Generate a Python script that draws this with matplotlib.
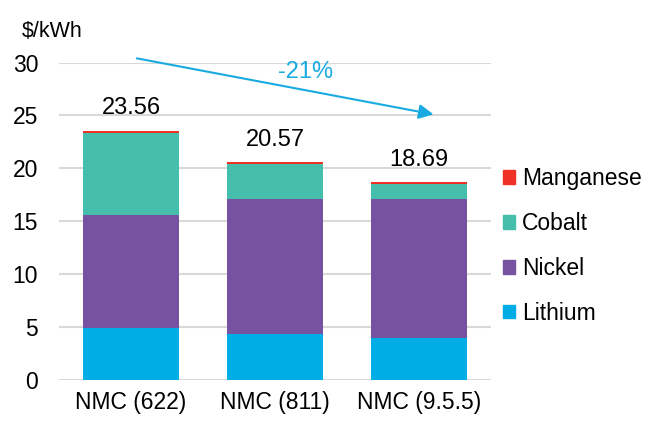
import matplotlib.pyplot as plt
from matplotlib.patches import Patch
import numpy as np

plt.rcParams['font.family'] = ['Liberation Sans', 'DejaVu Sans']

categories = ['NMC (622)', 'NMC (811)', 'NMC (9.5.5)']
lithium = [4.91, 4.38, 3.97]
nickel = [10.71, 12.76, 13.17]
cobalt = [7.74, 3.26, 1.40]
manganese = [0.20, 0.17, 0.15]
totals = [23.56, 20.57, 18.69]
change_label = '-21%'

colors = {
    'Lithium': '#00ADE4',
    'Nickel': '#7652A1',
    'Cobalt': '#45BEAC',
    'Manganese': '#EE3124',
}

fig = plt.figure(figsize=(6.46, 4.21), dpi=100)
ax = fig.add_axes([0.0913, 0.0974, 0.669, 0.754])

x = np.arange(len(categories))
width = 0.665
bottom = np.zeros(len(categories))
for name, vals in [('Lithium', lithium), ('Nickel', nickel),
                   ('Cobalt', cobalt), ('Manganese', manganese)]:
    ax.bar(x, vals, width, bottom=bottom, color=colors[name], zorder=3)
    bottom += np.array(vals)

for i, t in enumerate(totals):
    ax.text(x[i], bottom[i] + 1.1, f'{t:.2f}', ha='center', va='bottom', fontsize=17)

ax.set_xlim(-0.5, 2.5)
ax.set_ylim(0, 30)
ax.set_yticks(range(0, 31, 5))
ax.set_xticks(x)
ax.set_xticklabels(categories)
ax.tick_params(axis='both', length=0, labelsize=16.5)
ax.tick_params(axis='y', pad=15)
ax.tick_params(axis='x', pad=8)
ax.grid(axis='y', color='#D9D9D9', linewidth=1.5, zorder=0)
for s in ax.spines.values():
    s.set_visible(False)

# trend arrow
ax.annotate('', xy=(2.1, 25.1), xytext=(0.04, 30.4),
            arrowprops=dict(arrowstyle='-|>', color='#1AAAE2', lw=1.5,
                            mutation_scale=22, shrinkA=0, shrinkB=0),
            annotation_clip=False)
ax.text(1.21, 29.1, change_label, color='#1AAAE2', fontsize=17,
        ha='center', va='center')

fig.text(0.034, 0.925, '$/kWh', fontsize=15.5, va='center', ha='left')

handles = [Patch(color=colors[n]) for n in ['Manganese', 'Cobalt', 'Nickel', 'Lithium']]
fig.legend(handles, ['Manganese', 'Cobalt', 'Nickel', 'Lithium'],
           loc='center left', bbox_to_anchor=(0.746, 0.416),
           frameon=False, fontsize=16.5, handlelength=0.55, handleheight=0.55,
           handletextpad=0.3, labelspacing=0.95)

fig.savefig('out.png', dpi=100)
